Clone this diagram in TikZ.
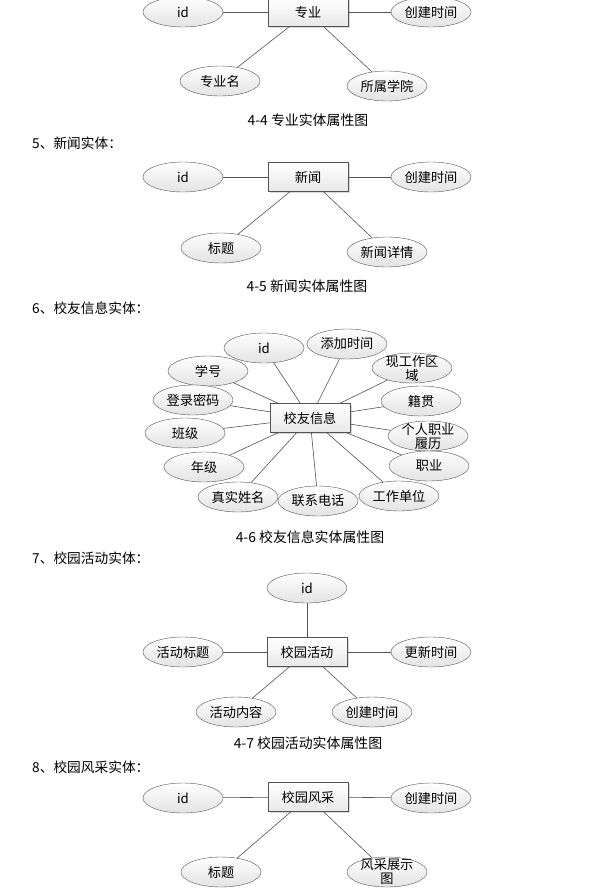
\documentclass[tikz,border=0pt]{standalone}
\usepackage{fontspec}
\setmainfont{Noto Sans CJK SC}
\usetikzlibrary{shapes.geometric,shadows}

\tikzset{
  attr/.style={ellipse, draw=gray!65!black, top color=white, bottom color=gray!22,
    minimum width=80pt, minimum height=30pt, inner sep=0pt,
    font=\fontsize{13.2}{14}\selectfont},
  entity/.style={rectangle, draw=gray!65!black, top color=white, bottom color=gray!18,
    minimum width=80pt, minimum height=29pt, inner sep=0pt,
    font=\fontsize{13.2}{14}\selectfont,
    drop shadow={opacity=0.3, shadow xshift=1.5pt, shadow yshift=-1.5pt}},
  link/.style={draw=gray!65!black, line width=0.6pt},
  twolines/.style={align=center, font=\fontsize{13.2}{14}\selectfont},
  heading/.style={anchor=west, inner sep=0pt, font=\fontsize{13.7}{15}\selectfont},
  caption/.style={inner sep=0pt, font=\fontsize{13.9}{15}\selectfont}
}

\begin{document}
\begin{tikzpicture}[x=1pt, y=-1pt]
        \useasboundingbox (0,0) rectangle (599,889);
        \clip (0,0) rectangle (599,889);

        % 4-4 (cut at the top)
        \node[entity] (M) at (308,12) {专业};
        \node[attr] (Mid) at (183,12) {id};
        \node[attr] (Mtime) at (431,12) {创建时间};
        \node[attr] (Mname) at (220,81) {专业名};
        \node[attr] (Mdept) at (387,86) {所属学院};
        \draw[link] (M) -- (Mid);
        \draw[link] (M) -- (Mtime);
        \draw[link] (M) -- (Mname);
        \draw[link] (M) -- (Mdept);
        \node[caption] (capM) at (308,120) {4-4 专业实体属性图};

        % 5
        \node[heading] (hN) at (32,143) {5、新闻实体：};
        \node[entity] (N) at (308,177) {新闻};
        \node[attr] (Nid) at (183,177) {id};
        \node[attr] (Ntime) at (431,177) {创建时间};
        \node[attr] (Ntitle) at (221,248) {标题};
        \node[attr] (Ntext) at (387,252) {新闻详情};
        \draw[link] (N) -- (Nid);
        \draw[link] (N) -- (Ntime);
        \draw[link] (N) -- (Ntitle);
        \draw[link] (N) -- (Ntext);
        \node[caption] (capN) at (307,286) {4-5 新闻实体属性图};

        % 6
        \node[heading] (hA) at (32,308) {6、校友信息实体：};
        \node[attr] (Aid) at (264,348) {id};
        \node[attr] (Aadd) at (347,344) {添加时间};
        \node[attr, label={[twolines]center:现工作区\\域}] (Aarea) at (412,368) {};
        \node[attr] (Ano) at (208,371) {学号};
        \node[attr] (Apwd) at (193,400) {登录密码};
        \node[attr] (Aorig) at (421,401) {籍贯};
        \node[attr] (Aclass) at (185,433) {班级};
        \node[attr, label={[twolines]center:个人职业\\履历}] (Acv) at (428,436) {};
        \node[attr] (Agrade) at (204,467) {年级};
        \node[attr] (Ajob) at (429,466) {职业};
        \node[attr] (Areal) at (238,497) {真实姓名};
        \node[attr] (Atel) at (318,501) {联系电话};
        \node[attr] (Awork) at (399,496) {工作单位};
        \node[entity] (A) at (310,418) {校友信息};
        \foreach \a in {Aid,Aadd,Aarea,Ano,Apwd,Aorig,Aclass,Acv,Agrade,Ajob,Areal,Atel,Awork}
            \draw[link] (A) -- (\a);
        \node[caption] (capA) at (310,537) {4-6 校友信息实体属性图};

        % 7
        \node[heading] (hC) at (32,558) {7、校园活动实体：};
        \node[entity] (C) at (307,652) {校园活动};
        \node[attr] (Cid) at (307,588) {id};
        \node[attr] (Ctitle) at (183,652) {活动标题};
        \node[attr] (Cupd) at (431,652) {更新时间};
        \node[attr] (Ctext) at (236,712) {活动内容};
        \node[attr] (Ctime) at (372,712) {创建时间};
        \draw[link] (C) -- (Cid);
        \draw[link] (C) -- (Ctitle);
        \draw[link] (C) -- (Cupd);
        \draw[link] (C) -- (Ctext);
        \draw[link] (C) -- (Ctime);
        \node[caption] (capC) at (308,743) {4-7 校园活动实体属性图};

        % 8
        \node[heading] (hS) at (32,767) {8、校园风采实体：};
        \node[entity] (S) at (308,797) {校园风采};
        \node[attr] (Sid) at (183,798) {id};
        \node[attr] (Stime) at (431,798) {创建时间};
        \node[attr] (Stitle) at (221,872) {标题};
        \node[attr, label={[twolines]center:风采展示\\图}] (Spic) at (387,872) {};
        \draw[link] (S) -- (Sid);
        \draw[link] (S) -- (Stime);
        \draw[link] (S) -- (Stitle);
        \draw[link] (S) -- (Spic);

    \end{tikzpicture}
\end{document}
